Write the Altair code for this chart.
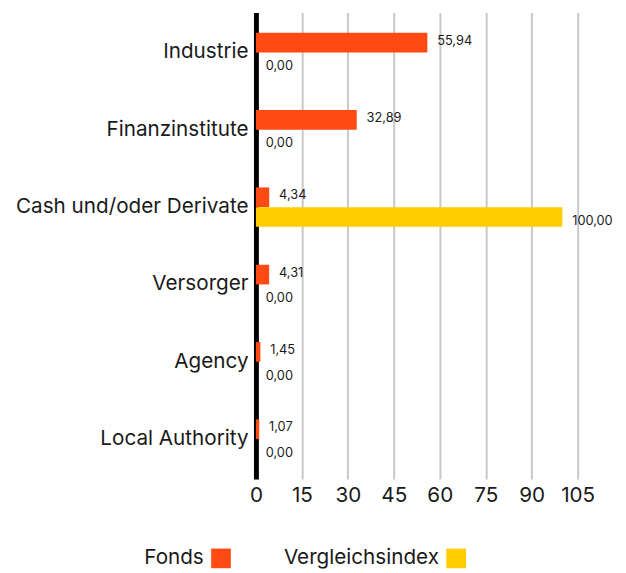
import altair as alt
import pandas as pd

categories = ["Industrie", "Finanzinstitute", "Cash und/oder Derivate", "Versorger", "Agency", "Local Authority"]
fonds = [55.94, 32.89, 4.34, 4.31, 1.45, 1.07]
index = [0.00, 0.00, 100.00, 0.00, 0.00, 0.00]
series = ["Fonds", "Vergleichsindex"]
colors = ["#ff4a14", "#ffcc00"]
x_ticks = [0, 15, 30, 45, 60, 75, 90, 105]

rows = []
for c, f, i in zip(categories, fonds, index):
    rows.append({"cat": c, "series": series[0], "value": f})
    rows.append({"cat": c, "series": series[1], "value": i})
df = pd.DataFrame(rows)

FONT = "Inter"
FS = 21

y_enc = alt.Y("cat:N", sort=categories, title=None,
              scale=alt.Scale(paddingInner=0.49, paddingOuter=0.26),
              axis=alt.Axis(labelFontSize=FS, labelColor="#1a1a1a", labelFont=FONT,
                            ticks=False, domainColor="#000000", domainWidth=5,
                            labelPadding=8, labelLimit=400))
x_enc = alt.X("value:Q", title=None,
              scale=alt.Scale(domain=[0, 105], nice=False),
              axis=alt.Axis(values=x_ticks, labelFontSize=FS, labelColor="#1a1a1a", labelFont=FONT,
                            ticks=False, domain=False, grid=True, gridColor="#c8c8c8",
                            gridWidth=2, labelPadding=6, labelFlush=False))
yoff = alt.YOffset("series:N", sort=series)

base = alt.Chart(df).encode(y=y_enc, yOffset=yoff)

bars = base.mark_bar(size=20).encode(
    x=x_enc,
    color=alt.Color("series:N", sort=series,
                    scale=alt.Scale(domain=series, range=colors),
                    legend=alt.Legend(title=None, orient="none", direction="horizontal",
                                      legendX=-46, legendY=544,
                                      symbolType="square", symbolSize=400,
                                      symbolStrokeWidth=0, symbolOpacity=1,
                                      labelFontSize=FS, labelFont=FONT, labelColor="#1a1a1a",
                                      labelAlign="right", labelOffset={"expr": "-28"},
                                      columnPadding=53, labelLimit=300)),
)

txt_f = base.mark_text(align="left", baseline="middle", dx=10, dy=-2, fontSize=13,
                       font=FONT, color="#1a1a1a").encode(
    x="value:Q", text="lbl:N"
).transform_filter(alt.datum.series == series[0]).transform_calculate(
    lbl="replace(format(datum.value, '.2f'), '.', ',')")

txt_i = base.mark_text(align="left", baseline="middle", dx=10, dy=4, fontSize=13,
                       font=FONT, color="#1a1a1a").encode(
    x="value:Q", text="lbl:N"
).transform_filter(alt.datum.series == series[1]).transform_calculate(
    lbl="replace(format(datum.value, '.2f'), '.', ',')")

chart = alt.layer(bars, txt_f, txt_i).properties(
    width=327, height=474,
    padding={"left": 7, "top": 0, "right": 5, "bottom": 5}
).configure_view(stroke=None)

chart.save("out.html", embed_options={"renderer": "svg", "actions": False})
